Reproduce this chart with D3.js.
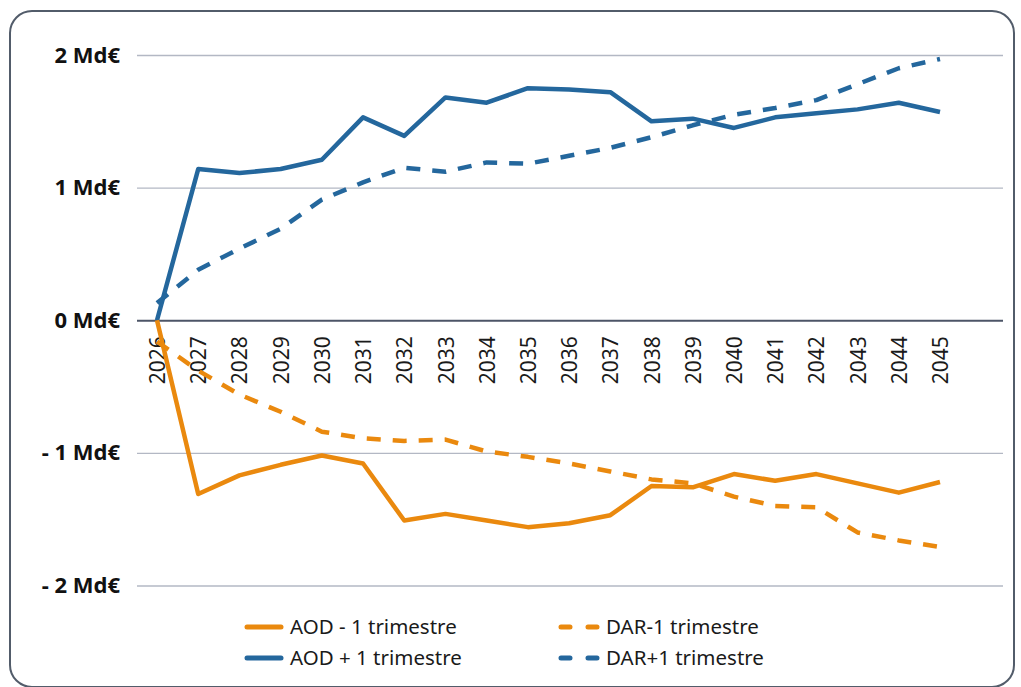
<!DOCTYPE html>
<html lang="fr">
<head>
<meta charset="utf-8">
<script src="https://cdn.jsdelivr.net/npm/d3@7"></script>
<style>
  html, body { margin: 0; padding: 0; background: #ffffff; }
  svg { display: block; }
  svg text { font-family: "Noto Sans", "Open Sans", sans-serif; }
</style>
</head>
<body>
<svg id="chart" width="1021" height="687"></svg>
<script>
// Années de projection
const years = [2026, 2027, 2028, 2029, 2030, 2031, 2032, 2033, 2034, 2035,
               2036, 2037, 2038, 2039, 2040, 2041, 2042, 2043, 2044, 2045];

// Effet sur le solde (Md€)
const aodMoins1 = [0, -1.31, -1.17, -1.09, -1.02, -1.08, -1.51, -1.46, -1.51, -1.56,
                   -1.53, -1.47, -1.25, -1.26, -1.16, -1.21, -1.16, -1.23, -1.30, -1.22];
const darMoins1 = [-0.16, -0.38, -0.56, -0.69, -0.84, -0.89, -0.91, -0.90, -0.99, -1.03,
                   -1.08, -1.14, -1.20, -1.23, -1.33, -1.40, -1.41, -1.60, -1.66, -1.71];
const aodPlus1 = [0, 1.14, 1.11, 1.14, 1.21, 1.53, 1.39, 1.68, 1.64, 1.75,
                  1.74, 1.72, 1.50, 1.52, 1.45, 1.53, 1.56, 1.59, 1.64, 1.57];
const darPlus1 = [0.13, 0.38, 0.54, 0.69, 0.91, 1.04, 1.15, 1.12, 1.19, 1.18,
                  1.24, 1.30, 1.38, 1.47, 1.55, 1.60, 1.66, 1.78, 1.90, 1.97];

const yTicks = [-2, -1, 0, 1, 2];
const yTickLabels = ["- 2 Md€", "- 1 Md€", "0 Md€", "1 Md€", "2 Md€"];

const seriesNames = ["AOD - 1 trimestre", "DAR-1 trimestre", "AOD + 1 trimestre", "DAR+1 trimestre"];

const BLUE = "#24679d";
const ORANGE = "#ea890e";
const FONT = '"Noto Sans", "Open Sans", sans-serif';

const series = [
  { name: seriesNames[2], values: aodPlus1, color: BLUE, dashed: false },
  { name: seriesNames[3], values: darPlus1, color: BLUE, dashed: true },
  { name: seriesNames[0], values: aodMoins1, color: ORANGE, dashed: false },
  { name: seriesNames[1], values: darMoins1, color: ORANGE, dashed: true }
];

const svg = d3.select("#chart");

// Cadre arrondi
svg.append("rect")
  .attr("x", 10).attr("y", 11)
  .attr("width", 1004).attr("height", 676)
  .attr("rx", 22).attr("ry", 22)
  .attr("fill", "#ffffff")
  .attr("stroke", "#525c6a")
  .attr("stroke-width", 2);

const plotLeft = 137, plotRight = 1003;

const x = d3.scalePoint().domain(years).range([157, 940]);
const y = d3.scaleLinear().domain([-2, 2]).range([585.5, 55]);

// Grille horizontale et libellés de l'axe des ordonnées
const yAxis = d3.axisLeft(y)
  .tickValues(yTicks)
  .tickSize(-(plotRight - plotLeft))
  .tickPadding(17)
  .tickFormat((d, i) => yTickLabels[i]);

const gy = svg.append("g")
  .attr("transform", `translate(${plotLeft},0)`)
  .call(yAxis)
  .attr("font-family", FONT);
gy.select(".domain").remove();
gy.selectAll(".tick line")
  .attr("stroke", d => d === 0 ? "#4c5567" : "#b3b8c4")
  .attr("stroke-width", d => d === 0 ? 1.8 : 1.4);
gy.selectAll(".tick text")
  .attr("fill", "#111111")
  .style("font-family", FONT)
  .style("font-size", "22px")
  .style("font-weight", "700");

// Années sous la ligne zéro, écrites verticalement
const xAxis = d3.axisBottom(x).tickSize(0).tickPadding(0);
const gx = svg.append("g")
  .attr("transform", `translate(0,${y(0)})`)
  .call(xAxis)
  .attr("font-family", FONT);
gx.select(".domain").remove();
gx.selectAll(".tick text")
  .attr("fill", "#1a1a1a")
  .style("font-family", FONT)
  .style("font-size", "21px")
  .attr("text-anchor", "end")
  .attr("dy", "0.36em")
  .attr("transform", "translate(0,16) rotate(-90)")
  .attr("x", 0).attr("y", 0);

// Courbes
const line = d3.line()
  .x((d, i) => x(years[i]))
  .y(d => y(d));

svg.append("g").selectAll("path")
  .data(series)
  .join("path")
  .attr("d", d => line(d.values))
  .attr("fill", "none")
  .attr("stroke", d => d.color)
  .attr("stroke-width", 4.5)
  .attr("stroke-linejoin", "round")
  .attr("stroke-dasharray", d => d.dashed ? "14,12" : null);

// Légende
const legendItems = [
  { name: seriesNames[0], color: ORANGE, dashed: false, lx: 245, ly: 627 },
  { name: seriesNames[1], color: ORANGE, dashed: true, lx: 559, ly: 627 },
  { name: seriesNames[2], color: BLUE, dashed: false, lx: 245, ly: 658 },
  { name: seriesNames[3], color: BLUE, dashed: true, lx: 559, ly: 658 }
];

const lg = svg.append("g").selectAll("g")
  .data(legendItems)
  .join("g")
  .attr("transform", d => `translate(${d.lx},${d.ly})`);

lg.append("line")
  .attr("x1", 2).attr("x2", d => d.dashed ? 40 : 36)
  .attr("y1", 0).attr("y2", 0)
  .attr("stroke", d => d.color)
  .attr("stroke-width", 5)
  .attr("stroke-linecap", "round")
  .attr("stroke-dasharray", d => d.dashed ? "9,18" : null);

lg.append("text")
  .attr("x", d => d.dashed ? 47 : 45)
  .attr("y", 0)
  .attr("dy", "0.35em")
  .attr("fill", "#1a1a1a")
  .style("font-family", FONT)
  .style("font-size", "20.5px")
  .text(d => d.name);
</script>
</body>
</html>
